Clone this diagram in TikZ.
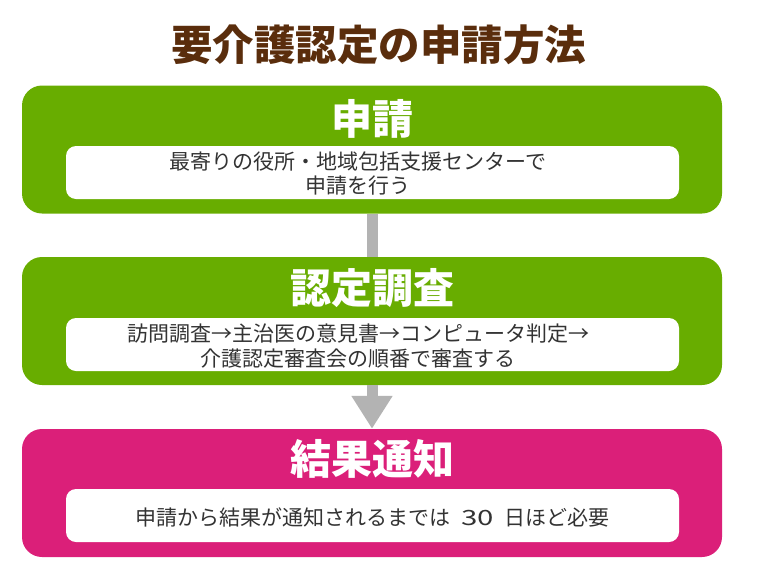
\documentclass[tikz,border=0pt]{standalone}
\usepackage{fontspec}
\setmainfont{Noto Sans CJK JP}
\usetikzlibrary{arrows.meta}
\definecolor{titlebrown}{HTML}{5A2D0C}
\definecolor{stepgreen}{HTML}{68AD00}
\definecolor{stepmagenta}{HTML}{DB1F79}
\definecolor{connectorgray}{HTML}{B3B3B3}
\definecolor{bodytext}{HTML}{333333}
\begin{document}
\begin{tikzpicture}[x=1pt,y=-1pt,
  outerbox/.style={rounded corners=20pt, minimum width=700pt, minimum height=128pt, inner sep=0pt},
  innerbox/.style={fill=white, rounded corners=10pt, minimum width=613pt, minimum height=53pt, inner sep=0pt},
  bodylabel/.style={text=bodytext, align=center, inner sep=0pt, font=\fontsize{21}{24.5}\selectfont},
  headtext/.style={text=white, font=\bfseries\fontsize{41}{44}\selectfont, inner sep=0pt},
  conn/.style={draw=connectorgray, line width=11pt}]
\useasboundingbox (0,0) rectangle (760,570);
\node[text=titlebrown, font=\bfseries\fontsize{41.5}{44}\selectfont, inner sep=0pt] (title) at (378.5,45) {要介護認定の申請方法};
\node[outerbox, fill=stepgreen] (b1) at (372,149.5) {};
\node[outerbox, fill=stepgreen] (b2) at (372,321) {};
\node[outerbox, fill=stepmagenta] (b3) at (372,493) {};
\draw[conn] (b1.south) -- (b2.north);
\draw[conn, -{Triangle[width=39pt,length=33pt]}] (b2.south) -- (b3.north);
\node[headtext] (h1) at (372,118.5) {申請};
\node[headtext] (h2) at (372,288) {認定調査};
\node[headtext] (h3) at (372,459) {結果通知};
\node[innerbox] (w1) at (372.5,172.5) {};
\node[innerbox] (w2) at (372.5,344.5) {};
\node[innerbox] (w3) at (372.5,515.5) {};
\node[bodylabel] (t1) at (358,173.5) {最寄りの役所・地域包括支援センターで\\申請を行う};
\node[bodylabel] (t2) at (358,346) {訪問調査→主治医の意見書→コンピュータ判定→\\介護認定審査会の順番で審査する};
\node[bodylabel] (t3) at (372.5,517.5) {申請から結果が通知されるまでは\hspace{11pt}\scalebox{1.4}[1]{30}\hspace{11pt}日ほど必要};
\end{tikzpicture}
\end{document}
